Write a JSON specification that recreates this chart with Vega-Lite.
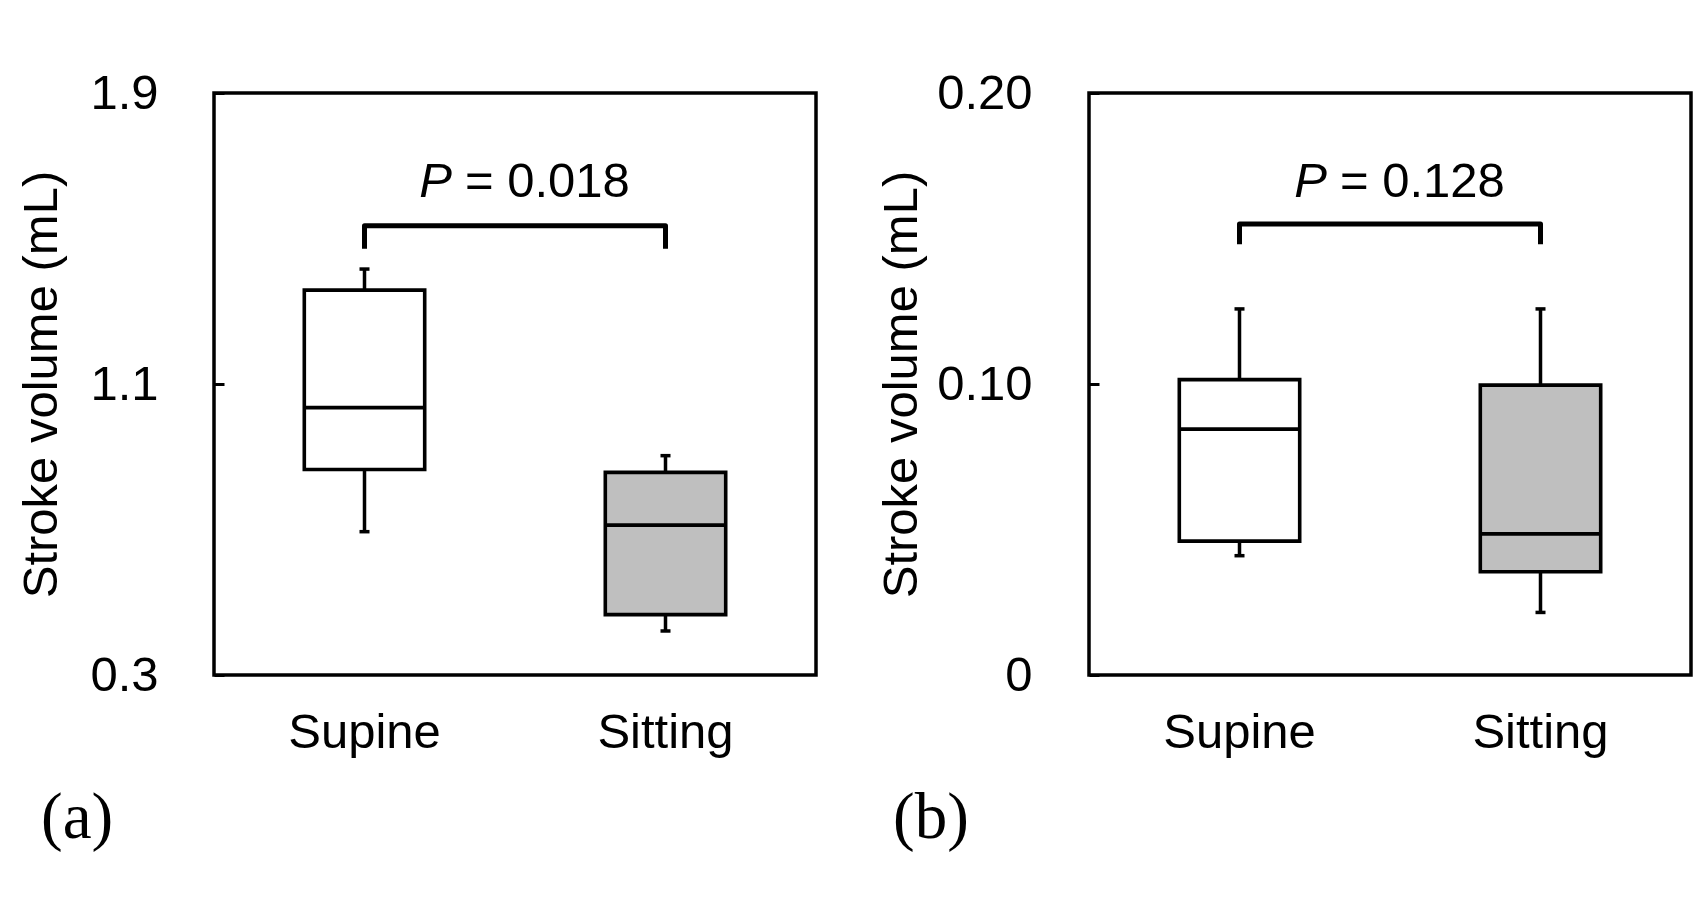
{
  "$schema": "https://vega.github.io/schema/vega-lite/v6.json",
  "background": "white",
  "padding": {"left": 16, "top": 67, "right": 0, "bottom": 0},
  "spacing": 57,
  "config": {
    "font": "Liberation Sans",
    "view": {"stroke": "black", "strokeWidth": 3.5},
    "axis": {
      "grid": false,
      "domain": false,
      "labelColor": "black",
      "titleColor": "black",
      "labelFontSize": 49,
      "titleFontSize": 49,
      "titleFontWeight": "normal",
      "tickColor": "black"
    },
    "title": {"font": "Liberation Serif", "fontSize": 65, "fontWeight": "normal", "color": "black"}
  },
  "datasets": {
    "stats_a": [
      {"position": "Supine", "lower": 0.694, "q1": 0.865, "median": 1.035, "q3": 1.358, "upper": 1.416},
      {"position": "Sitting", "lower": 0.421, "q1": 0.466, "median": 0.712, "q3": 0.857, "upper": 0.903}
    ],
    "stats_b": [
      {"position": "Supine", "lower": 0.041, "q1": 0.046, "median": 0.0845, "q3": 0.1015, "upper": 0.1258},
      {"position": "Sitting", "lower": 0.0215, "q1": 0.0355, "median": 0.0485, "q3": 0.0996, "upper": 0.1258}
    ],
    "bracket_a": [
      {"position": "Supine", "y": 1.472, "order": 1},
      {"position": "Supine", "y": 1.535, "order": 2},
      {"position": "Sitting", "y": 1.535, "order": 3},
      {"position": "Sitting", "y": 1.472, "order": 4}
    ],
    "bracket_b": [
      {"position": "Supine", "y": 0.148, "order": 1},
      {"position": "Supine", "y": 0.155, "order": 2},
      {"position": "Sitting", "y": 0.155, "order": 3},
      {"position": "Sitting", "y": 0.148, "order": 4}
    ],
    "label_a": [{"position": "Supine", "y": 1.615, "p": "P", "rest": "= 0.018"}],
    "label_b": [{"position": "Supine", "y": 0.1642, "p": "P", "rest": "= 0.128"}]
  },
  "hconcat": [
    {
      "width": 602,
      "height": 582,
      "title": {"text": "(a)", "orient": "bottom", "anchor": "start", "frame": "group", "dx": -173, "offset": 30},
      "encoding": {
        "x": {
          "field": "position", "type": "nominal",
          "scale": {"domain": ["Supine", "Sitting"], "paddingInner": 0, "paddingOuter": 0},
          "axis": {"title": null, "ticks": false, "labelAngle": 0, "labelPadding": 33}
        }
      },
      "layer": [
        {
          "data": {"name": "stats_a"},
          "mark": {"type": "rule", "color": "black", "strokeWidth": 3.5, "opacity": 1},
          "encoding": {
            "y": {
              "field": "lower", "type": "quantitative",
              "scale": {"domain": [0.3, 1.9], "nice": false, "zero": false},
              "axis": {"values": [0.3, 1.1, 1.9], "format": ".1f", "tickSize": -10, "tickWidth": 3, "labelPadding": 66, "title": "Stroke volume (mL)", "titlePadding": 23}
            },
            "y2": {"field": "upper"}
          }
        },
        {
          "data": {"name": "stats_a"},
          "mark": {"type": "tick", "orient": "horizontal", "color": "black", "opacity": 1, "size": 10, "thickness": 3.5},
          "encoding": {"y": {"field": "upper", "type": "quantitative"}}
        },
        {
          "data": {"name": "stats_a"},
          "mark": {"type": "tick", "orient": "horizontal", "color": "black", "opacity": 1, "size": 10, "thickness": 3.5},
          "encoding": {"y": {"field": "lower", "type": "quantitative"}}
        },
        {
          "data": {"name": "stats_a"},
          "mark": {"type": "bar", "width": {"band": 0.4}, "stroke": "black", "strokeWidth": 3.6, "opacity": 1},
          "encoding": {
            "y": {"field": "q1", "type": "quantitative"},
            "y2": {"field": "q3"},
            "fill": {"field": "position", "type": "nominal", "scale": {"domain": ["Supine", "Sitting"], "range": ["white", "#bfbfbf"]}, "legend": null}
          }
        },
        {
          "data": {"name": "stats_a"},
          "mark": {"type": "tick", "orient": "horizontal", "color": "black", "opacity": 1, "size": 120, "thickness": 3.6},
          "encoding": {"y": {"field": "median", "type": "quantitative"}}
        },
        {
          "data": {"name": "bracket_a"},
          "mark": {"type": "line", "color": "black", "strokeWidth": 5, "strokeJoin": "round", "strokeCap": "butt"},
          "encoding": {
            "y": {"field": "y", "type": "quantitative"},
            "order": {"field": "order", "type": "quantitative"}
          }
        },
        {
          "data": {"name": "label_a"},
          "mark": {"type": "text", "align": "right", "baseline": "alphabetic", "fontStyle": "italic", "fontSize": 49, "color": "black", "dx": -63},
          "encoding": {
            "x": {"field": "position", "type": "nominal", "bandPosition": 1},
            "y": {"field": "y", "type": "quantitative"},
            "text": {"field": "p"}
          }
        },
        {
          "data": {"name": "label_a"},
          "mark": {"type": "text", "align": "left", "baseline": "alphabetic", "fontSize": 49, "color": "black", "dx": -50},
          "encoding": {
            "x": {"field": "position", "type": "nominal", "bandPosition": 1},
            "y": {"field": "y", "type": "quantitative"},
            "text": {"field": "rest"}
          }
        }
      ]
    },
    {
      "width": 602,
      "height": 582,
      "title": {"text": "(b)", "orient": "bottom", "anchor": "start", "frame": "group", "dx": -196, "offset": 30},
      "encoding": {
        "x": {
          "field": "position", "type": "nominal",
          "scale": {"domain": ["Supine", "Sitting"], "paddingInner": 0, "paddingOuter": 0},
          "axis": {"title": null, "ticks": false, "labelAngle": 0, "labelPadding": 33}
        }
      },
      "layer": [
        {
          "data": {"name": "stats_b"},
          "mark": {"type": "rule", "color": "black", "strokeWidth": 3.5, "opacity": 1},
          "encoding": {
            "y": {
              "field": "lower", "type": "quantitative",
              "scale": {"domain": [0, 0.2], "nice": false, "zero": false},
              "axis": {"values": [0, 0.1, 0.2], "labelExpr": "datum.value == 0 ? '0' : format(datum.value, '.2f')", "tickSize": -10, "tickWidth": 3, "labelPadding": 67, "title": "Stroke volume (mL)", "titlePadding": 10}
            },
            "y2": {"field": "upper"}
          }
        },
        {
          "data": {"name": "stats_b"},
          "mark": {"type": "tick", "orient": "horizontal", "color": "black", "opacity": 1, "size": 10, "thickness": 3.5},
          "encoding": {"y": {"field": "upper", "type": "quantitative"}}
        },
        {
          "data": {"name": "stats_b"},
          "mark": {"type": "tick", "orient": "horizontal", "color": "black", "opacity": 1, "size": 10, "thickness": 3.5},
          "encoding": {"y": {"field": "lower", "type": "quantitative"}}
        },
        {
          "data": {"name": "stats_b"},
          "mark": {"type": "bar", "width": {"band": 0.4}, "stroke": "black", "strokeWidth": 3.6, "opacity": 1},
          "encoding": {
            "y": {"field": "q1", "type": "quantitative"},
            "y2": {"field": "q3"},
            "fill": {"field": "position", "type": "nominal", "scale": {"domain": ["Supine", "Sitting"], "range": ["white", "#bfbfbf"]}, "legend": null}
          }
        },
        {
          "data": {"name": "stats_b"},
          "mark": {"type": "tick", "orient": "horizontal", "color": "black", "opacity": 1, "size": 120, "thickness": 3.6},
          "encoding": {"y": {"field": "median", "type": "quantitative"}}
        },
        {
          "data": {"name": "bracket_b"},
          "mark": {"type": "line", "color": "black", "strokeWidth": 5, "strokeJoin": "round", "strokeCap": "butt"},
          "encoding": {
            "y": {"field": "y", "type": "quantitative"},
            "order": {"field": "order", "type": "quantitative"}
          }
        },
        {
          "data": {"name": "label_b"},
          "mark": {"type": "text", "align": "right", "baseline": "alphabetic", "fontStyle": "italic", "fontSize": 49, "color": "black", "dx": -63},
          "encoding": {
            "x": {"field": "position", "type": "nominal", "bandPosition": 1},
            "y": {"field": "y", "type": "quantitative"},
            "text": {"field": "p"}
          }
        },
        {
          "data": {"name": "label_b"},
          "mark": {"type": "text", "align": "left", "baseline": "alphabetic", "fontSize": 49, "color": "black", "dx": -50},
          "encoding": {
            "x": {"field": "position", "type": "nominal", "bandPosition": 1},
            "y": {"field": "y", "type": "quantitative"},
            "text": {"field": "rest"}
          }
        }
      ]
    }
  ]
}
